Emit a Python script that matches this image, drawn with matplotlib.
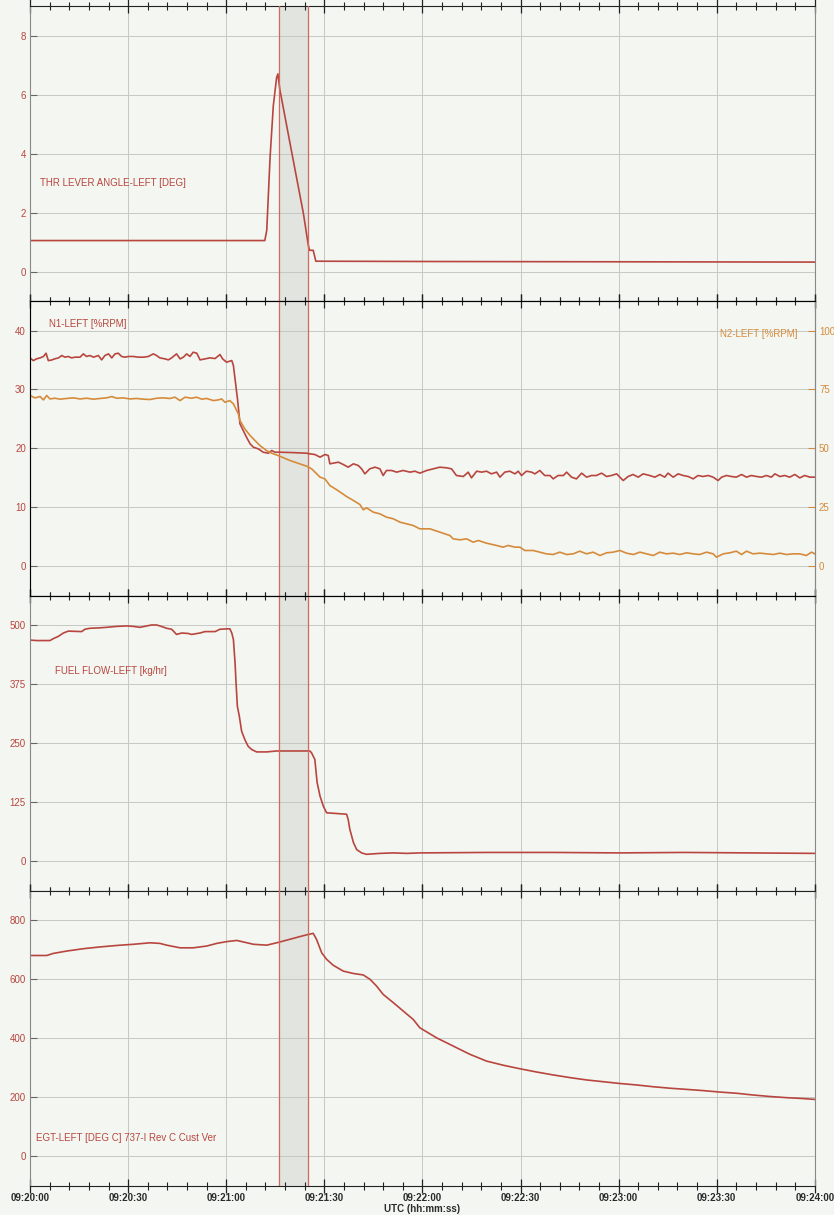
import matplotlib.pyplot as plt
from matplotlib.ticker import MultipleLocator, FuncFormatter

# time axis in seconds after 09:20:00 UTC
thr_t = [0, 30, 60, 71.8, 72.4, 73.4, 74.4, 75.4, 75.8, 76.4, 80.0, 83.6, 85.1, 85.5, 86.6, 87.4, 120, 180, 240]
thr_deg = [1.05, 1.05, 1.05, 1.05, 1.4, 3.85, 5.62, 6.57, 6.7, 6.17, 4.06, 1.97, 0.89, 0.72, 0.72, 0.35, 0.34, 0.33, 0.32]

n1_t = [0, 1.0, 2.0, 3.1, 4.1, 4.9, 5.6, 6.6, 7.6, 8.7, 9.7, 10.7, 11.7, 12.7, 13.8, 15.3, 16.3, 17.3, 18.3,
        19.4, 20.9, 21.9, 22.9, 24.0, 25.0, 26.0, 27.0, 28.0, 29.0, 30.1, 31.6, 33.1, 34.7, 36.2, 37.7, 38.7,
        39.7, 41.3, 42.3, 43.3, 44.8, 45.9, 46.9, 47.9, 48.9, 49.9, 51.0, 52.0, 53.5, 55.0, 56.6, 58.1, 58.9,
        60.1, 61.7, 62.2, 63.0, 63.5, 64.2, 65.2, 66.2, 67.3, 68.3, 69.8, 71.3, 72.9, 73.9, 74.9, 76.4, 80.5,
        84.6, 85.6, 87.1, 88.7, 90.2, 91.2, 91.7, 92.7, 94.3, 95.8, 97.3, 98.9, 100.4, 101.4, 102.4, 103.9,
        105.5, 107.0, 108.0, 109.0, 110.6, 112.1, 114.1, 116.2, 117.7, 119.2, 121.3, 123.3, 125.3, 127.4,
        128.9, 130.4, 132.5, 134.0, 135.0, 136.6, 138.1, 139.6, 141.1, 142.7, 143.7, 145.2, 146.7, 148.3,
        149.3, 150.3, 151.8, 153.4, 154.4, 155.9, 157.4, 159.0, 160.0, 161.5, 163.1, 164.1, 165.6, 167.1,
        168.7, 170.2, 171.7, 173.2, 174.8, 176.3, 177.8, 179.4, 180.4, 181.4, 182.9, 184.4, 186.0, 187.5,
        189.5, 191.1, 192.6, 194.1, 195.1, 196.7, 198.2, 199.7, 201.3, 202.8, 204.3, 205.8, 207.4, 208.9,
        210.4, 211.5, 213.0, 214.5, 216.0, 217.6, 219.1, 220.6, 222.2, 223.7, 225.2, 226.7, 227.8, 229.3,
        230.8, 232.3, 233.9, 235.4, 236.9, 238.5, 240.0]
n1_rpm = [35.36, 34.9, 35.2, 35.36, 35.6, 36.15, 34.9, 35.0, 35.2, 35.36, 35.76, 35.48, 35.6, 35.36, 35.48,
          35.48, 36.04, 35.6, 35.76, 35.48, 35.76, 35.02, 35.76, 36.04, 35.36, 36.04, 36.15, 35.6, 35.48, 35.6,
          35.6, 35.48, 35.48, 35.6, 36.04, 35.76, 35.36, 35.19, 35.02, 35.36, 36.04, 35.19, 35.48, 36.04, 35.6,
          36.32, 36.15, 35.02, 35.19, 35.36, 35.25, 35.93, 35.19, 34.63, 34.91, 34.06, 30.39, 28.13, 24.18,
          23.05, 21.92, 20.79, 20.22, 19.94, 19.37, 19.2, 19.66, 19.37, 19.37, 19.3, 19.2, 19.09, 18.98, 18.53,
          18.98, 18.81, 17.4, 17.51, 17.68, 17.28, 16.83, 17.4, 17.11, 16.55, 15.7, 16.55, 16.83, 16.55, 15.42,
          16.27, 16.27, 15.99, 16.27, 15.99, 16.15, 15.82, 16.27, 16.55, 16.83, 16.72, 16.55, 15.42, 15.25,
          15.99, 15.02, 16.15, 15.99, 16.15, 15.7, 15.99, 15.14, 15.99, 16.15, 15.7, 16.15, 15.42, 16.15,
          15.99, 15.7, 16.27, 15.42, 15.42, 14.85, 15.42, 15.42, 15.99, 15.14, 14.85, 15.82, 15.14, 15.42,
          15.42, 15.82, 15.25, 15.42, 15.7, 15.14, 14.57, 15.25, 15.59, 15.14, 15.7, 15.42, 15.14, 15.59,
          15.14, 15.82, 15.14, 15.7, 15.42, 15.25, 14.85, 15.42, 15.25, 15.42, 15.14, 14.57, 15.14, 15.42,
          15.25, 15.14, 15.59, 15.14, 15.42, 15.25, 15.14, 15.42, 15.14, 15.7, 15.25, 15.42, 15.14, 15.59,
          15.02, 15.42, 15.14, 15.14]

n2_t = [0, 1.5, 3.1, 4.1, 5.1, 6.1, 7.6, 9.2, 11.2, 13.3, 15.3, 17.3, 19.4, 21.4, 23.4, 25.0, 26.5, 28.5,
        30.6, 32.6, 34.7, 36.7, 38.7, 40.8, 42.8, 44.3, 45.9, 47.4, 49.4, 50.9, 52.5, 54.0, 56.1, 57.6, 58.6,
        59.6, 61.1, 62.2, 63.7, 64.2, 65.7, 67.3, 68.8, 70.3, 72.3, 73.9, 75.9, 79.5, 82.5, 84.6, 86.1, 88.7,
        90.2, 91.7, 93.8, 96.8, 98.9, 100.9, 101.9, 102.9, 105.0, 107.0, 109.0, 111.1, 113.1, 115.1, 117.2,
        119.2, 122.3, 125.3, 128.4, 129.4, 131.5, 133.5, 135.5, 137.1, 139.6, 142.7, 144.7, 146.2, 148.3,
        149.8, 151.3, 153.9, 155.9, 157.9, 160.0, 162.0, 164.1, 166.1, 168.1, 170.2, 172.2, 174.3, 176.3,
        178.3, 180.4, 182.4, 184.5, 186.5, 188.5, 190.6, 192.6, 194.6, 196.7, 198.7, 200.8, 202.8, 204.8,
        206.9, 208.9, 209.9, 212.0, 214.0, 216.0, 217.6, 219.1, 221.1, 223.2, 225.2, 227.3, 229.3, 231.3,
        233.4, 235.4, 237.4, 239.0, 240.0]
n2_rpm = [72.45, 71.45, 72.0, 70.6, 72.45, 71.0, 71.3, 70.9, 71.2, 71.45, 71.0, 71.3, 70.9, 71.2, 71.45, 72.0,
          71.3, 71.45, 71.0, 71.2, 70.9, 70.75, 71.3, 71.45, 71.2, 71.75, 70.3, 71.75, 71.3, 71.75, 70.9, 71.2,
          70.3, 70.6, 71.0, 69.6, 70.3, 68.9, 64.7, 61.85, 58.3, 55.5, 53.4, 51.25, 49.15, 48.0, 47.0, 44.9,
          43.5, 42.5, 41.4, 37.85, 37.1, 34.3, 32.5, 29.65, 27.95, 26.25, 24.0, 24.85, 23.0, 22.3, 20.9, 20.2,
          18.8, 18.1, 17.35, 15.95, 15.95, 14.54, 13.12, 11.71, 11.29, 11.71, 10.3, 11.0, 9.88, 8.89, 8.18,
          8.89, 8.18, 8.18, 6.77, 6.77, 6.06, 5.35, 5.07, 6.06, 5.07, 5.35, 6.48, 5.35, 6.06, 4.65, 5.78, 6.06,
          6.77, 5.64, 5.07, 6.06, 5.35, 4.65, 6.06, 5.35, 5.64, 5.07, 5.78, 5.35, 5.07, 6.06, 5.35, 3.94, 5.35,
          5.78, 6.48, 5.07, 6.48, 5.35, 5.64, 5.35, 5.07, 5.64, 5.07, 5.35, 5.35, 4.65, 6.06, 5.35]

ff_t = [0, 2.0, 6.1, 7.1, 8.7, 10.2, 11.7, 15.8, 16.8, 18.3, 21.4, 23.4, 26.5, 29.6, 31.6, 33.6, 35.7, 37.2,
        38.7, 39.7, 41.8, 43.3, 44.8, 46.4, 48.4, 49.4, 52.0, 53.5, 56.6, 58.1, 61.1, 61.7, 62.2, 62.7, 63.0,
        63.4, 64.0, 64.7, 65.7, 66.7, 67.8, 69.3, 72.4, 75.4, 77.5, 84.6, 85.6, 86.1, 87.1, 87.8, 88.7, 89.7,
        90.7, 92.7, 96.8, 97.3, 97.8, 98.9, 99.9, 101.4, 102.9, 107.0, 111.1, 115.2, 119.2, 140, 160, 180,
        200, 220, 240]
ff_kghr = [469, 468, 468, 472, 477, 484, 488, 487, 492, 494, 495, 496, 498, 499, 498, 496, 499, 501, 501, 499,
           494, 492, 481, 484, 483, 481, 484, 487, 487, 492, 493, 484, 470, 421, 379, 329, 308, 276, 258, 244,
           237, 232, 232, 234, 234, 234, 234, 230, 216, 167, 138, 117, 103, 102, 100, 89, 68, 40, 25, 18, 15,
           17, 18, 17, 18, 19, 19, 18, 19, 18, 17]

egt_t = [0, 5.1, 7.1, 11.2, 16.3, 21.4, 26.5, 31.6, 36.7, 39.7, 41.8, 45.9, 49.9, 54.0, 57.1, 60.1, 63.2, 65.2,
         68.3, 72.4, 75.4, 79.5, 82.5, 84.6, 86.6, 87.6, 89.2, 90.7, 92.7, 95.8, 98.9, 101.9, 104.0, 106.0,
         108.0, 111.1, 114.1, 117.2, 119.2, 124.3, 129.4, 134.5, 139.6, 144.7, 149.8, 154.9, 160.0, 165.1,
         170.2, 175.3, 180.4, 185.5, 190.6, 195.7, 200.8, 205.8, 210.9, 216.0, 221.1, 226.2, 231.3, 236.4, 240]
egt_degc = [681, 681, 688, 696, 704, 710, 715, 719, 724, 722, 716, 707, 707, 713, 722, 728, 732, 727, 719, 716,
            724, 736, 745, 751, 756, 736, 690, 668, 648, 628, 620, 615, 600, 577, 549, 521, 493, 464, 436, 402,
            374, 346, 323, 309, 297, 286, 276, 267, 259, 253, 247, 242, 236, 231, 227, 223, 218, 214, 208, 203,
            199, 196, 193]

# event window marked by the two cursors
event_start, event_end = 76, 85

red = '#b8463f'
orange = '#d68b3c'
paper = '#f3f6f1'

plt.rcParams['font.family'] = ['Liberation Sans', 'DejaVu Sans']
plt.rcParams['font.size'] = 7


def hhmmss(s, pos):
    s = int(round(s))
    return f"09:{20 + s // 60:02d}:{s % 60:02d}"


fig, axes = plt.subplots(4, 1, sharex=True, figsize=(8.34, 12.15), dpi=100, facecolor=paper)
fig.subplots_adjust(left=0.036, right=0.977, top=0.995, bottom=0.024, hspace=0)

limits = [(-1, 9, 2), (-5, 45, 10), (-62.5, 562.5, 125), (-100, 900, 200)]
for ax, (lo, hi, step) in zip(axes, limits):
    ax.set_facecolor(paper)
    ax.set_xlim(0, 240)
    ax.set_ylim(lo, hi)
    ax.yaxis.set_major_locator(MultipleLocator(step))
    ax.xaxis.set_major_locator(MultipleLocator(30))
    ax.xaxis.set_minor_locator(MultipleLocator(6))
    ax.grid(True, which='major', color='#c6c8c4', lw=0.7)
    ax.tick_params(axis='x', which='both', top=True, bottom=True, direction='inout', color='#222')
    ax.tick_params(axis='x', which='major', length=10, width=0.9, labelcolor='#2a2a2a', pad=0)
    ax.tick_params(axis='x', which='minor', length=6, width=0.8)
    ax.tick_params(axis='y', direction='in', length=5, color='#666', labelcolor=red, pad=3)
    for side in ['left', 'right']:
        ax.spines[side].set_color('#888')
    for side in ['top', 'bottom']:
        ax.spines[side].set_color('#222')
    ax.axvspan(event_start, event_end, color='#e2e5df', zorder=0.3)
    ax.axvline(event_start, color='#d06a5e', lw=0.9, zorder=3)
    ax.axvline(event_end, color='#d06a5e', lw=0.9, zorder=3)

axes[3].xaxis.set_major_formatter(FuncFormatter(hhmmss))
for lab in axes[3].get_xticklabels():
    lab.set_fontweight('bold')
axes[3].set_xlabel('UTC (hh:mm:ss)', fontweight='bold', color='#2a2a2a', labelpad=1)

# throttle lever angle
axes[0].plot(thr_t, thr_deg, color=red, lw=1.2)
axes[0].text(0.013, 0.40, 'THR LEVER ANGLE-LEFT [DEG]', color=red, transform=axes[0].transAxes, va='center')

# N1 / N2
axes[1].plot(n1_t, n1_rpm, color=red, lw=1.2, zorder=4)
n2_ax = axes[1].twinx()
n2_ax.set_ylim(-12.5, 112.5)
n2_ax.yaxis.set_major_locator(MultipleLocator(25))
n2_ax.tick_params(axis='y', direction='in', length=5, color=orange, labelcolor=orange, pad=3)
n2_ax.spines['right'].set_color('#888')
n2_ax.plot(n2_t, n2_rpm, color=orange, lw=1.2)
axes[1].text(0.024, 0.922, 'N1-LEFT [%RPM]', color=red, transform=axes[1].transAxes, va='center')
axes[1].text(0.978, 0.888, 'N2-LEFT [%RPM]', color=orange, transform=axes[1].transAxes, va='center', ha='right')

# fuel flow
axes[2].plot(ff_t, ff_kghr, color=red, lw=1.2)
axes[2].text(0.032, 0.745, 'FUEL FLOW-LEFT [kg/hr]', color=red, transform=axes[2].transAxes, va='center')

# exhaust gas temperature
axes[3].plot(egt_t, egt_degc, color=red, lw=1.2)
axes[3].text(0.008, 0.163, 'EGT-LEFT [DEG C] 737-I Rev C Cust Ver', color=red, transform=axes[3].transAxes, va='center')

fig.savefig('out.png', dpi=100, facecolor=paper)
